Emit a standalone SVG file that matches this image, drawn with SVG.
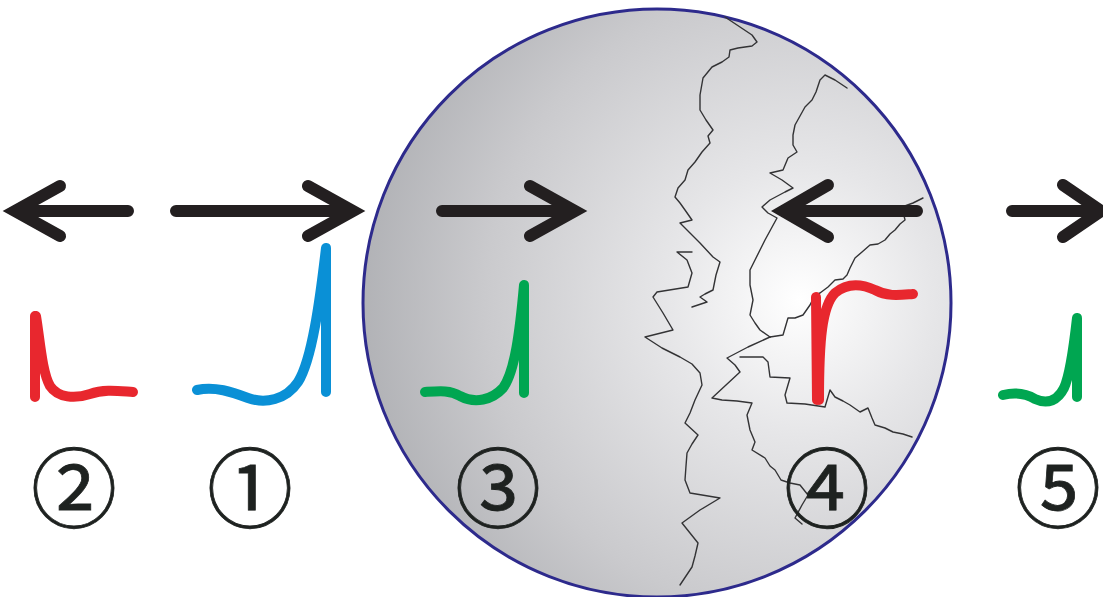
<svg xmlns="http://www.w3.org/2000/svg" width="1103" height="597" viewBox="0 0 1103 597">
  <defs>
    <radialGradient id="sphereShade" gradientUnits="userSpaceOnUse" cx="800" cy="300" r="450">
      <stop offset="0" stop-color="#ffffff"/>
      <stop offset="0.3" stop-color="#e6e6e8"/>
      <stop offset="0.7" stop-color="#cacacd"/>
      <stop offset="1" stop-color="#afb0b4"/>
    </radialGradient>
    <style>
      .crack { fill: none; stroke: #333335; stroke-width: 1.4; stroke-linejoin: round; stroke-linecap: round; }
      .arrow { fill: none; stroke: #231f20; stroke-width: 12; stroke-linecap: round; stroke-linejoin: miter; stroke-miterlimit: 10; }
      .pulse { fill: none; stroke-width: 10; stroke-linecap: round; stroke-linejoin: round; }
      .red { stroke: #e8272e; }
      .blue { stroke: #0a90d6; }
      .green { stroke: #00a651; }
      .num { font-family: "Noto Sans CJK JP", "DejaVu Sans", sans-serif; font-size: 86px; font-weight: 400; fill: #1e2220; stroke: #1e2220; stroke-width: 0.8; text-anchor: middle; }
    </style>
  </defs>

  <rect width="1103" height="597" fill="#ffffff"/>

  <!-- shaded grain / sphere -->
  <g id="sphere">
    <circle cx="657" cy="303" r="294" fill="url(#sphereShade)" stroke="#2d2a8c" stroke-width="3"/>
  </g>

  <!-- fracture lines across the sphere -->
  <g id="cracks">
    <polyline class="crack" points="725,17 740,27 752,35 757,42 752,46 738,48 730,50 729,57 722,62 712,67 703,78 700,95 700,110 706,120 713,130 708,136 710,143 702,152 695,162 688,170 685,180 678,188 675,197 680,203 685,210 692,220 680,223 690,233 700,243 713,257 720,262 716,275 713,290 705,294 700,297 707,302 692,307"/>
    <polyline class="crack" points="692,252 677,252 687,260 692,273 688,287 657,292 653,297 663,313 673,330 645,337 662,348 680,357 692,364 700,373 702,385 695,400 690,413 685,423 698,435 692,444 687,453 686,466 685,480 690,493 720,498 700,510 682,523 690,533 698,543 695,556 692,567 686,576 680,585"/>
    <polyline class="crack" points="847,88 835,80 825,75 820,80 816,92 812,100 805,107 800,116 795,125 793,135 793,145 797,152 788,158 783,170 770,173 782,180 793,188 785,192 770,200 762,207 768,213 777,218 771,229 765,240 760,250 755,260 750,270 750,285 753,300 750,315 755,323 760,330 770,337"/>
    <polyline class="crack" points="770,337 783,335 788,318 795,318 803,315 810,305 815,295 820,293 828,287 835,280 843,279 847,275 850,268 855,258 862,252 870,245 878,244 885,240 890,234 895,230 900,224 905,220 902,207 913,203 923,198"/>
    <polyline class="crack" points="770,337 748,347 727,358 735,365 740,372 726,385 712,398 722,400 737,401 752,403 747,415 750,430 755,442 752,450 765,458 770,466 775,470 781,480 790,483 800,485 808,495 802,505 795,518 802,524"/>
    <polyline class="crack" points="740,357 763,357 768,362 770,377 790,378 785,395 787,403 805,404 825,407 830,390 835,397 843,401 850,405 860,412 868,408 872,418 875,425 885,428 893,432 903,434 912,437"/>
  </g>

  <!-- direction arrows -->
  <g id="connectors">
    <g id="arrow-2">
      <path class="arrow" d="M128,211 L22,211 M60,186 L15,211 L60,236"/>
    </g>
    <g id="arrow-1">
      <path class="arrow" d="M176,211 L346,211 M308,186 L353,211 L308,236"/>
    </g>
    <g id="arrow-3">
      <path class="arrow" d="M442,211 L568,211 M530,186 L575,211 L530,236"/>
    </g>
    <g id="arrow-4">
      <path class="arrow" d="M917,211 L790,211 M828,185 L783,211 L828,237"/>
    </g>
    <g id="arrow-5">
      <path class="arrow" d="M1012,211 L1094,211 M1063,185 L1101,211 L1063,237"/>
    </g>
  </g>

  <!-- waveforms -->
  <g id="pulse-2">
    <path class="pulse red" d="M35,397 L35,316 M36,316 C40,340 42,372 50,386 C58,398 75,399 90,394 C104,389 118,391 133,392"/>
  </g>
  <g id="pulse-1">
    <path class="pulse blue" d="M197,390 C215,386 232,392 248,398 C265,404 286,400 298,382 C312,360 320,300 326,248 L326,392"/>
  </g>
  <g id="pulse-3">
    <path class="pulse green" d="M425,392 C440,391 450,390 460,396 C475,404 492,400 503,388 C515,372 520,330 524,285 L524,393"/>
  </g>
  <g id="pulse-4">
    <path class="pulse red" stroke-width="13" d="M817,400 L816,297 M819,400 C819,340 822,306 835,293 C848,282 862,284 875,290 C888,297 900,295 913,294"/>
  </g>
  <g id="pulse-5">
    <path class="pulse green" stroke-width="9" d="M1003,395 C1015,392 1025,393 1035,399 C1048,405 1058,400 1064,388 C1070,375 1074,345 1077,318 L1077,397"/>
  </g>

  <!-- position labels -->
  <g id="label-2"><text class="num" x="74" y="521">②</text></g>
  <g id="label-1"><text class="num" x="250" y="521">①</text></g>
  <g id="label-3"><text class="num" x="498" y="521">③</text></g>
  <g id="label-4"><text class="num" x="827" y="521">④</text></g>
  <g id="label-5"><text class="num" x="1058" y="521">⑤</text></g>
</svg>
